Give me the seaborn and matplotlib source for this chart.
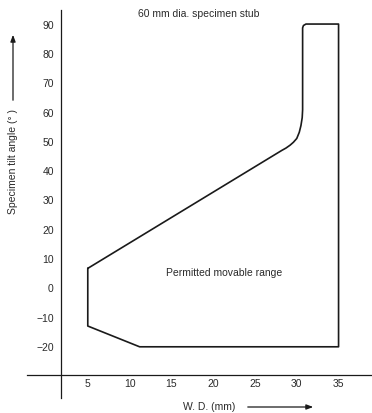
import matplotlib
matplotlib.use("Agg")
import matplotlib.pyplot as plt
import seaborn as sns
import pandas as pd

# boundary of the permitted range (W.D. in mm, tilt in degrees)
wd = [5, 5, 11.2, 35, 35, 31.1, 30.8, 30.7, 30.7, 30.65, 30.5, 30.3, 30.0, 29.6,
      29.2, 28.7, 28.2, 5]
tilt = [6.8, -12.9, -20, -20, 90.3, 90.3, 89.8, 89.0, 61, 58.3, 55.6, 53.3, 51.2,
        49.9, 48.9, 47.9, 47.1, 6.8]

x_ticks = [5, 10, 15, 20, 25, 30, 35]
y_ticks = [-20, -10, 0, 10, 20, 30, 40, 50, 60, 70, 80, 90]

title = "60 mm dia. specimen stub"
region_label = "Permitted movable range"
x_label = "W. D. (mm)"
y_label = "Specimen tilt angle (° )"

sns.set_style("white")
plt.rcParams['font.family'] = ['Liberation Sans', 'DejaVu Sans']

ink = "#1a1a1a"
txt = "#2a2a2a"
df = pd.DataFrame({"wd": wd, "tilt": tilt})

fig = plt.figure(figsize=(3.72, 4.13), dpi=100)
ax = fig.add_axes([27 / 372, 15 / 413, 345 / 372, 388 / 413])

sns.lineplot(data=df, x="wd", y="tilt", sort=False, estimator=None,
             color=ink, linewidth=1.2, ax=ax)

ax.set_xlim(-2.27, 39.0)
ax.set_ylim(-37.5, 95.1)

# axes cross like a plus sign
for side in ["top", "right"]:
    ax.spines[side].set_visible(False)
ax.spines["left"].set_position(("data", 1.77))
ax.spines["bottom"].set_position(("data", -29.66))
for side in ["left", "bottom"]:
    ax.spines[side].set_color(ink)
    ax.spines[side].set_linewidth(0.9)

ax.set_xticks(x_ticks)
ax.set_yticks(y_ticks)
ax.set_yticklabels([f"{v}".replace("-", "\u2212") for v in y_ticks])
ax.tick_params(axis="x", direction="in", length=6, width=0.9, color=ink,
               labelsize=7.5, labelcolor=txt, pad=3)
ax.tick_params(axis="y", direction="in", length=4, width=0.9, color=ink,
               labelsize=7.5, labelcolor=txt, pad=5)
ax.set_xlabel("")
ax.set_ylabel("")

ax.text(18.3, 93.8, title, fontsize=7.5, color=txt, ha="center", va="center")
ax.text(21.3, 5.2, region_label, fontsize=7.5, color=txt, ha="center", va="center")

# axis titles with arrows, in figure pixels
fig.text(209 / 372, 1 - 407 / 413, x_label, fontsize=7.5, color=txt,
         ha="center", va="center")
fig.add_artist(matplotlib.patches.FancyArrowPatch(
    (245 / 372, 1 - 407 / 413), (316 / 372, 1 - 407 / 413),
    transform=fig.transFigure, arrowstyle="-|>,head_length=4,head_width=1.5",
    color=ink, linewidth=0.9))

fig.text(13 / 372, 1 - 161 / 413, y_label, fontsize=7.5, color=txt,
         ha="center", va="center", rotation=90)
fig.add_artist(matplotlib.patches.FancyArrowPatch(
    (13 / 372, 1 - 103 / 413), (13 / 372, 1 - 32 / 413),
    transform=fig.transFigure, arrowstyle="-|>,head_length=4,head_width=1.5",
    color=ink, linewidth=0.9))

fig.savefig("out.png", dpi=100)
